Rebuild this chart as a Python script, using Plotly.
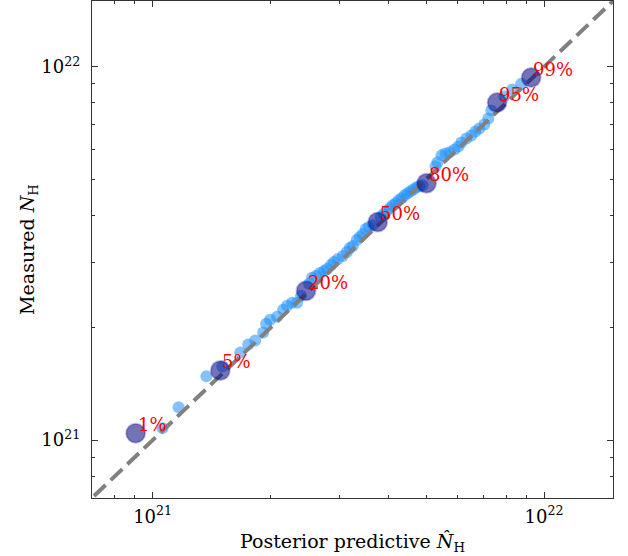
import numpy as np
import plotly.graph_objects as go

# Column density values in units of 1e21 cm^-2
UNIT = 1e21

# Posterior predictive vs measured N_H, sorted sample
pred_nh = [1.06, 1.165, 1.372, 1.507, 1.675, 1.755, 1.828, 1.916, 1.950, 1.996,
           2.080, 2.154, 2.206, 2.271, 2.339, 2.394, 2.509, 2.554, 2.615, 2.677,
           2.740, 2.789, 2.855, 2.905, 2.973, 3.062, 3.135, 3.190, 3.246, 3.323,
           3.382, 3.442, 3.503, 3.565, 3.650, 3.825, 3.893, 3.963, 4.033, 4.104,
           4.177, 4.251, 4.326, 4.403, 4.481, 4.560, 4.642, 4.724, 4.807, 4.893,
           5.280, 5.343, 5.470, 5.600, 5.733, 5.902, 6.043, 6.150, 6.332, 6.520,
           6.675, 6.833, 7.037, 7.204, 7.331, 7.911, 8.291, 8.741]
meas_nh = [1.077, 1.225, 1.482, 1.575, 1.717, 1.803, 1.848, 1.941, 2.051, 2.102,
           2.141, 2.236, 2.291, 2.333, 2.333, 2.436, 2.623, 2.721, 2.754, 2.805,
           2.840, 2.875, 2.946, 3.001, 3.057, 3.114, 3.192, 3.271, 3.311, 3.436,
           3.499, 3.565, 3.676, 3.721, 3.767, 3.957, 4.031, 4.106, 4.182, 4.260,
           4.312, 4.392, 4.446, 4.529, 4.585, 4.642, 4.699, 4.757, 4.786, 4.816,
           5.412, 5.546, 5.790, 5.861, 5.898, 6.007, 6.119, 6.271, 6.427, 6.546,
           6.709, 6.834, 7.004, 7.267, 7.634, 8.318, 8.685, 9.010]

# Quantile markers
q_labels = ["1%", "5%", "20%", "50%", "80%", "95%", "99%"]
q_pred = [0.905, 1.489, 2.466, 3.759, 5.009, 7.586, 9.268]
q_meas = [1.044, 1.537, 2.512, 3.837, 4.875, 8.017, 9.354]

x_range = [7.0e20, 1.5e22]
major_ticks = [1e21, 1e22]
major_text = ["10<sup>21</sup>", "10<sup>22</sup>"]
minor_ticks = [8e20, 9e20] + [k * 1e21 for k in range(2, 10)]

FONT = "DejaVu Serif"
FRAME = "#333333"

px = np.array(pred_nh) * UNIT
py = np.array(meas_nh) * UNIT
qx = np.array(q_pred) * UNIT
qy = np.array(q_meas) * UNIT

fig = go.Figure()

fig.add_trace(go.Scatter(
    x=px, y=py, mode="markers",
    marker=dict(size=12, color="rgba(30,144,255,0.55)", line=dict(width=0)),
    showlegend=False, hoverinfo="skip"))

# one-to-one reference line
fig.add_trace(go.Scatter(
    x=[1e20, 1e23], y=[1e20, 1e23], mode="lines",
    line=dict(color="rgba(128,128,128,1)", width=4, dash="16px,7px"),
    showlegend=False, hoverinfo="skip"))

fig.add_trace(go.Scatter(
    x=qx, y=qy, mode="markers",
    marker=dict(size=19, color="rgba(0,0,128,0.55)",
                line=dict(width=2, color="rgba(0,0,128,0.25)")),
    showlegend=False, hoverinfo="skip"))

for lab, xv, yv in zip(q_labels, qx, qy):
    fig.add_annotation(
        x=np.log10(xv), y=np.log10(yv), text=lab, showarrow=False,
        xanchor="left", yanchor="bottom", xshift=0, yshift=-4,
        font=dict(family=FONT, size=18, color="red"))

axis_common = dict(
    type="log",
    range=[np.log10(x_range[0]), np.log10(x_range[1])],
    showgrid=False, zeroline=False,
    showline=True, linecolor=FRAME, linewidth=1.3, mirror="ticks",
    ticks="inside", ticklen=6, tickwidth=1.2, tickcolor=FRAME,
    tickmode="array", tickvals=major_ticks, ticktext=major_text,
    tickfont=dict(family=FONT, size=18, color="black"),
    minor=dict(ticks="inside", ticklen=3, tickwidth=1, tickcolor=FRAME,
               tickmode="array", tickvals=minor_ticks, showgrid=False),
)

fig.update_layout(
    width=628, height=556,
    margin=dict(l=92, r=15, t=1, b=58),
    paper_bgcolor="white", plot_bgcolor="white",
    xaxis=dict(axis_common,
               ticklabelstandoff=2,
               title=dict(text="Posterior predictive <i>N\u0302</i><sub>H</sub>",
                          font=dict(family=FONT, size=19, color="black"),
                          standoff=8)),
    yaxis=dict(axis_common,
               ticklabelstandoff=7,
               title=dict(text="Measured <i>N</i><sub>H</sub>",
                          font=dict(family=FONT, size=19, color="black"),
                          standoff=1)),
)

fig.write_html("out.html")
